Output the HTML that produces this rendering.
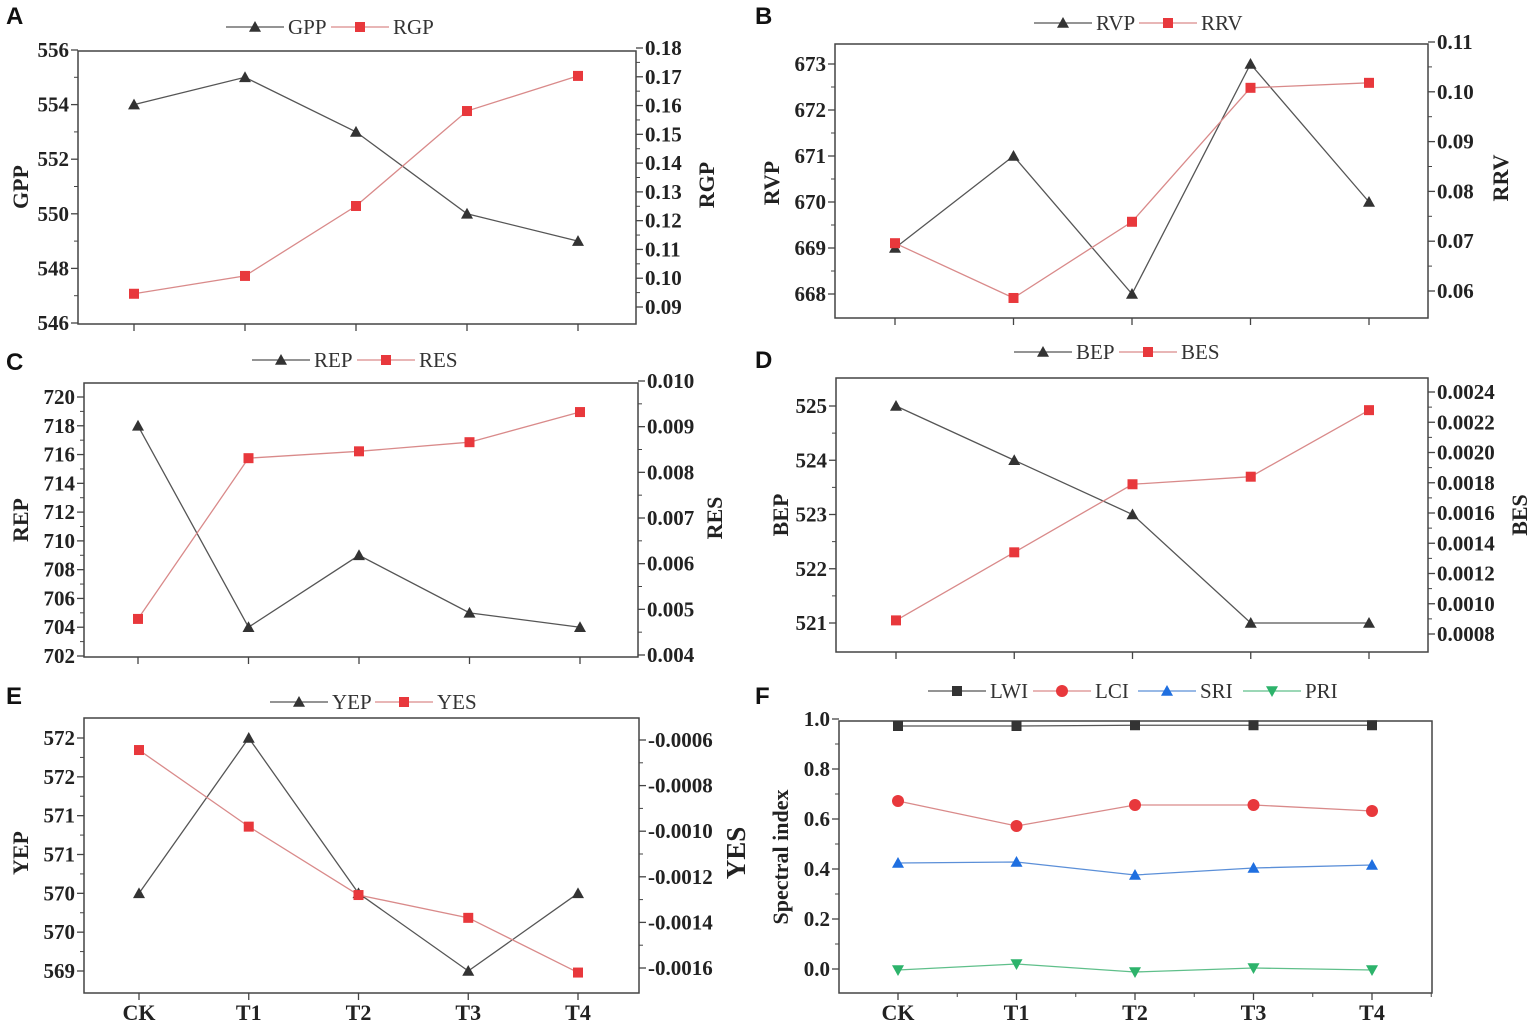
<!DOCTYPE html>
<html><head><meta charset="utf-8"><style>
body{margin:0;background:#fff;width:1535px;height:1030px;overflow:hidden}
svg{display:block}
</style></head><body>
<svg id="chart" width="1535" height="1030" font-family="Liberation Serif, serif"></svg>
<script>
const categories=["CK","T1","T2","T3","T4"];
const gpp=[554,555,553,550,549];
const rgp=[0.0946,0.1008,0.1251,0.1581,0.1703];
const rvp=[669,671,668,673,670];
const rrv=[0.0696,0.0586,0.0739,0.1008,0.1018];
const rep=[718,704,709,705,704];
const res=[0.00479,0.00831,0.00846,0.00866,0.00932];
const bep=[525,524,523,521,521];
const bes=[0.00089,0.00134,0.00179,0.00184,0.00228];
const yep=[570,572,570,569,570];
const yes=[-0.000644,-0.00098,-0.00128,-0.00138,-0.00162];
const lwi=[0.972,0.972,0.975,0.975,0.975];
const lci=[0.672,0.572,0.656,0.656,0.632];
const sri=[0.424,0.428,0.376,0.404,0.416];
const pri=[-0.004,0.02,-0.012,0.004,-0.004];
const ticksA_L=[546,548,550,552,554,556];
const ticksA_R=[0.09,0.10,0.11,0.12,0.13,0.14,0.15,0.16,0.17,0.18];
const ticksB_L=[668,669,670,671,672,673];
const ticksB_R=[0.06,0.07,0.08,0.09,0.10,0.11];
const ticksC_L=[702,704,706,708,710,712,714,716,718,720];
const ticksC_R=[0.004,0.005,0.006,0.007,0.008,0.009,0.010];
const ticksD_L=[521,522,523,524,525];
const ticksD_R=[0.0008,0.0010,0.0012,0.0014,0.0016,0.0018,0.0020,0.0022,0.0024];
const ticksE_L=[569,569.5,570,570.5,571,571.5,572];
const labelsE_L=["569","570","570","571","571","572","572"];
const ticksE_R=[-0.0016,-0.0014,-0.0012,-0.0010,-0.0008,-0.0006];
const ticksF=[0,0.2,0.4,0.6,0.8,1.0];

const svg=document.getElementById('chart');
const NS='http://www.w3.org/2000/svg';
const SERIF='Liberation Serif, serif';
function mk(tag,attrs,parent,text){const e=document.createElementNS(NS,tag);for(const k in attrs)e.setAttribute(k,attrs[k]);if(tag==='text'&&!attrs['font-family'])e.setAttribute('font-family',SERIF);if(text!==undefined)e.textContent=text;(parent||svg).appendChild(e);return e;}
function lin(v0,p0,v1,p1){return v=>p0+(v-v0)*(p1-p0)/(v1-v0);}
function marker(g,type,x,y,fill,s){
  s=s||6;let e;
  if(type==='tri')e=mk('polygon',{points:`${x},${y-s} ${x-s},${y+s*0.8} ${x+s},${y+s*0.8}`,fill:fill},g);
  else if(type==='dtri')e=mk('polygon',{points:`${x},${y+s} ${x-s},${y-s*0.8} ${x+s},${y-s*0.8}`,fill:fill},g);
  else if(type==='sq')e=mk('rect',{x:x-5,y:y-5,width:10,height:10,fill:fill},g);
  else e=mk('circle',{cx:x,cy:y,r:6,fill:fill},g);
  return e;
}
function panel(p){
  const g=mk('g',{});
  
  
  const t=mk('text',{x:p.lx,y:p.ly,'font-family':'Liberation Sans, Arial, sans-serif','font-weight':'bold','font-size':24,fill:'#111'},g,p.letter);
  
  const b=p.box;
  const frame=mk('rect',{x:b.l,y:b.t,width:b.r-b.l,height:b.b-b.t,fill:'none',stroke:'#444','stroke-width':1.5},g);
  
  const xs=i=>p.xs[0]+i*(p.xs[1]-p.xs[0])/(categories.length-1);
  categories.forEach((c,i)=>{
    mk('line',{x1:xs(i),x2:xs(i),y1:b.b,y2:b.b+7,stroke:'#444','stroke-width':1.3},g);
    if(p.minorX&&i<categories.length-1){const mx=(xs(i)+xs(i+1))/2;mk('line',{x1:mx,x2:mx,y1:b.b,y2:b.b+4,stroke:'#444'},g);}
    if(p.xlab){const l=mk('text',{x:xs(i),y:b.b+27,'text-anchor':'middle','font-size':22,'font-weight':'bold',fill:'#222'},g,c);}
  });
  if(p.minorX){const mx=xs(4)+(xs(4)-xs(3))/2;mk('line',{x1:mx,x2:mx,y1:b.b,y2:b.b+4,stroke:'#444'},g);}
  const L=p.left,yl=lin(L.v0,L.p0,L.v1,L.p1);
  L.ticks.forEach((v,i)=>{
    const y=yl(v);mk('line',{x1:b.l-7,x2:b.l,y1:y,y2:y,stroke:'#444','stroke-width':1.3},g);
    if(i<L.ticks.length-1){const ym=(y+yl(L.ticks[i+1]))/2;mk('line',{x1:b.l-4,x2:b.l,y1:ym,y2:ym,stroke:'#444'},g);}
    const l=mk('text',{x:b.l-9,y:y+7,'text-anchor':'end','font-size':21,'font-weight':'bold',fill:'#222'},g,L.labels?L.labels[i]:L.fmt(v));
    
  });
  const lt=mk('text',{x:0,y:0,transform:`translate(${L.tx},${L.ty}) rotate(-90)`,'text-anchor':'middle','font-size':L.ts||22,'font-weight':'bold',fill:'#222'},g,L.title);
  
  let yr=null;
  if(p.right){
    const R=p.right;yr=lin(R.v0,R.p0,R.v1,R.p1);
    R.ticks.forEach((v,i)=>{
      const y=yr(v);mk('line',{x1:b.r,x2:b.r+7,y1:y,y2:y,stroke:'#444','stroke-width':1.3},g);
      if(i<R.ticks.length-1){const ym=(y+yr(R.ticks[i+1]))/2;mk('line',{x1:b.r,x2:b.r+4,y1:ym,y2:ym,stroke:'#444'},g);}
      const l=mk('text',{x:b.r+9,y:y+7,'font-size':21,'font-weight':'bold',fill:'#222'},g,v.toFixed(R.dec));
      
    });
    const rt=mk('text',{x:0,y:0,transform:`translate(${R.tx},${R.ty}) rotate(-90)`,'text-anchor':'middle','font-size':R.ts||22,'font-weight':'bold',fill:'#222'},g,R.title);
    
  }
  p.series.forEach(s=>{
    const sc=s.axis==='r'?yr:yl;
    const pts=s.data.map((v,i)=>[xs(i),sc(v)]);
    const pl=mk('polyline',{points:pts.map(q=>q.join(',')).join(' '),fill:'none',stroke:s.line,'stroke-width':1.3},g);
    
    pts.forEach(q=>{const m=marker(g,s.m,q[0],q[1],s.fill);
      
      });
  });
  let x=p.legx;const ly=p.legy;
  p.series.forEach(s=>{
    const lg=mk('g',{},g);
    
    mk('line',{x1:x,x2:x+58,y1:ly,y2:ly,stroke:s.line,'stroke-width':1.3},lg);
    marker(lg,s.m,x+29,ly,s.fill,6);
    mk('text',{x:x+62,y:ly+7,'font-size':21,fill:'#333'},lg,s.label);
    x+=62+s.label.length*13+4;
  });
}
const GL='#555',GF='#333',RL='#d98a8a',RF='#e8383c';
panel({name:'panel-a',letter:'A',lx:6,ly:24,box:{l:78,r:636,t:51,b:324},xs:[134,578],xlab:false,
 left:{v0:546,p0:323,v1:556,p1:50,ticks:ticksA_L,fmt:v=>v,title:'GPP',tx:28,ty:187},
 right:{v0:0.09,p0:307,v1:0.18,p1:48,ticks:ticksA_R,dec:2,title:'RGP',tx:714,ty:185},
 series:[{label:'GPP',data:gpp,axis:'l',m:'tri',line:GL,fill:GF},{label:'RGP',data:rgp,axis:'r',m:'sq',line:RL,fill:RF}],legx:226,legy:27});
panel({name:'panel-b',letter:'B',lx:755,ly:24,box:{l:835,r:1428,t:44,b:318},xs:[895,1369],xlab:false,
 left:{v0:668,p0:294,v1:673,p1:64,ticks:ticksB_L,fmt:v=>v,title:'RVP',tx:779,ty:183},
 right:{v0:0.06,p0:291,v1:0.11,p1:42,ticks:ticksB_R,dec:2,title:'RRV',tx:1508,ty:178},
 series:[{label:'RVP',data:rvp,axis:'l',m:'tri',line:GL,fill:GF},{label:'RRV',data:rrv,axis:'r',m:'sq',line:RL,fill:RF}],legx:1034,legy:23});
panel({name:'panel-c',letter:'C',lx:6,ly:370,box:{l:84,r:638,t:383,b:657},xs:[138,580],xlab:false,
 left:{v0:702,p0:656,v1:720,p1:397,ticks:ticksC_L,fmt:v=>v,title:'REP',tx:28,ty:520},
 right:{v0:0.004,p0:655,v1:0.010,p1:381,ticks:ticksC_R,dec:3,title:'RES',tx:722,ty:518},
 series:[{label:'REP',data:rep,axis:'l',m:'tri',line:GL,fill:GF},{label:'RES',data:res,axis:'r',m:'sq',line:RL,fill:RF}],legx:252,legy:360});
panel({name:'panel-d',letter:'D',lx:755,ly:368,box:{l:836,r:1428,t:378,b:652},xs:[896,1369],xlab:false,
 left:{v0:521,p0:623,v1:525,p1:406,ticks:ticksD_L,fmt:v=>v,title:'BEP',tx:788,ty:515},
 right:{v0:0.0008,p0:634,v1:0.0024,p1:392,ticks:ticksD_R,dec:4,title:'BES',tx:1527,ty:515},
 series:[{label:'BEP',data:bep,axis:'l',m:'tri',line:GL,fill:GF},{label:'BES',data:bes,axis:'r',m:'sq',line:RL,fill:RF}],legx:1014,legy:352});
panel({name:'panel-e',letter:'E',lx:6,ly:704,box:{l:84,r:639,t:718,b:993},xs:[139,578],xlab:true,
 left:{v0:569,p0:971,v1:572,p1:738,ticks:ticksE_L,labels:labelsE_L,title:'YEP',tx:28,ty:853},
 right:{v0:-0.0016,p0:968,v1:-0.0006,p1:740,ticks:ticksE_R,dec:4,title:'YES',tx:745,ty:853,ts:27},
 series:[{label:'YEP',data:yep,axis:'l',m:'tri',line:GL,fill:GF},{label:'YES',data:yes,axis:'r',m:'sq',line:RL,fill:RF}],legx:270,legy:702});
panel({name:'panel-f',letter:'F',lx:755,ly:704,box:{l:839,r:1432,t:721,b:993},xs:[898,1372],xlab:true,minorX:true,
 left:{v0:0,p0:969,v1:1,p1:719,ticks:ticksF,fmt:v=>v.toFixed(1),title:'Spectral index',tx:788,ty:857},
 right:null,
 series:[{label:'LWI',data:lwi,axis:'l',m:'sq',line:'#555',fill:'#333'},{label:'LCI',data:lci,axis:'l',m:'circ',line:RL,fill:RF},
  {label:'SRI',data:sri,axis:'l',m:'tri',line:'#5b8fd8',fill:'#1f6fe0'},{label:'PRI',data:pri,axis:'l',m:'dtri',line:'#5fbf8a',fill:'#2db36b'}],legx:928,legy:691});
</script>
</body></html>
